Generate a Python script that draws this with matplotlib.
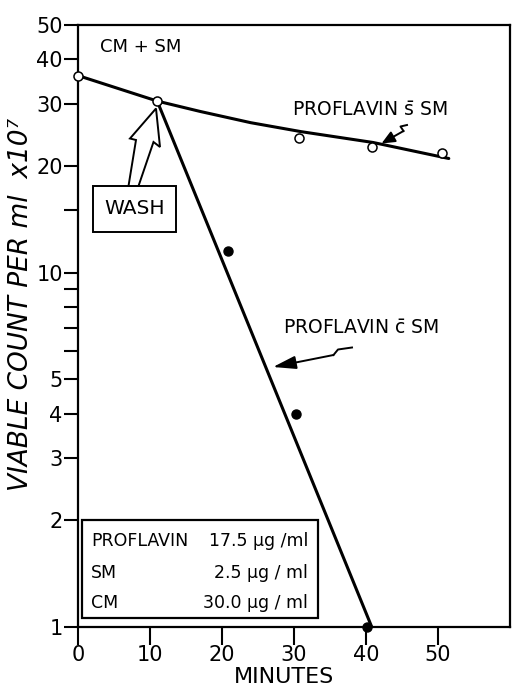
import matplotlib
matplotlib.use('Agg')
import matplotlib.pyplot as plt
from matplotlib.patches import Polygon, Rectangle, FancyArrowPatch
from matplotlib.ticker import FixedLocator, NullFormatter

# ── Data ──────────────────────────────────────────────────────────────────────
open_min   = [0, 11, 30.7, 40.9, 50.6]          # PROFLAVIN without SM
open_count = [36, 30.5, 24.0, 22.7, 21.8]
fill_min   = [20.9, 30.3, 40.2]                 # PROFLAVIN with SM
fill_count = [11.5, 4.0, 1.0]

curve_min   = [0, 11, 17, 24, 31, 41, 51.5]     # drawn curve through open points
curve_count = [36, 30.5, 28.5, 26.5, 25.0, 23.3, 21.0]
line_min    = [11, 40.8]                        # straight line after wash
line_count  = [30.5, 1.0]

y_major = [1, 2, 3, 4, 5, 10, 20, 30, 40, 50]
y_minor = [6, 7, 8, 9, 15]
x_major = [0, 10, 20, 30, 40, 50]

W, H = 513, 688
fig = plt.figure(figsize=(W / 100, H / 100), dpi=100)
ax = fig.add_axes([78 / W, 61 / H, 432 / W, 602 / H])

def P(x, y):
    # reference pixel (top-left origin) -> figure fraction
    return (x / W, 1 - y / H)

LW = 2.2
ax.plot(curve_min, curve_count, color='black', lw=LW, solid_capstyle='round')
ax.plot(line_min, line_count, color='black', lw=LW, solid_capstyle='round')
ax.plot(open_min, open_count, 'o', ms=6.5, mfc='white', mec='black', mew=1.1,
        clip_on=False, zorder=5)
ax.plot(fill_min, fill_count, 'o', ms=6.5, mfc='black', mec='black',
        clip_on=False, zorder=5)

ax.set_yscale('log')
ax.set_xlim(0, 60)
ax.set_ylim(1, 50)
ax.yaxis.set_major_locator(FixedLocator(y_major))
ax.yaxis.set_minor_locator(FixedLocator(y_minor))
ax.set_yticklabels([str(v) for v in y_major])
ax.yaxis.set_minor_formatter(NullFormatter())
ax.set_xticks(x_major)
ax.set_xticklabels([str(v) for v in x_major])

for s in ax.spines.values():
    s.set_linewidth(1.6)
ax.tick_params(axis='y', which='both', direction='out', length=10, width=1.5,
               labelsize=15, pad=1)
ax.tick_params(axis='x', which='both', direction='out', length=13, width=1.5,
               labelsize=15, pad=0)

fig.text(*P(284, 677), 'MINUTES', fontsize=16, ha='center', va='center')
ax.set_ylabel('VIABLE COUNT PER ml  x10\u2077', fontsize=19, style='italic')
ax.yaxis.set_label_coords(-0.102, 0.535)

# ── Annotations ───────────────────────────────────────────────────────────────
fig.text(*P(100, 47), 'CM + SM', fontsize=13, va='center', ha='left')
fig.text(*P(292, 110), 'PROFLAVIN $\\bar{\\mathrm{s}}$ SM', fontsize=13.5,
         va='center', ha='left')
fig.text(*P(283, 328), 'PROFLAVIN $\\bar{\\mathrm{c}}$ SM', fontsize=13.5,
         va='center', ha='left')

# squiggle arrows
def squiggle(pts, tip, head_len, head_w):
    xs = [p[0] / W for p in pts]
    ys = [1 - p[1] / H for p in pts]
    fig.add_artist(plt.Line2D(xs, ys, transform=fig.transFigure, color='black', lw=1.4))
    fig.add_artist(FancyArrowPatch(
        P(*pts[-1]), P(*tip), transform=fig.transFigure,
        arrowstyle=f'-|>,head_length={head_len},head_width={head_w}',
        mutation_scale=10, color='black', lw=1.4, shrinkA=0, shrinkB=0))

squiggle([(407, 125), (400.5, 126.5), (403.5, 131)], (381.5, 143.5), 0.8, 0.35)
squiggle([(352, 347.5), (338, 349.5), (333.5, 355)], (273, 367), 1.4, 0.4)

# WASH box and hollow arrow
fig.add_artist(Rectangle(P(93, 232), 83 / W, 46 / H, transform=fig.transFigure,
                         fill=False, ec='black', lw=1.4))
fig.text(*P(134.5, 209), 'WASH', fontsize=14.5, ha='center', va='center')
arrow_px = [(128.5, 186), (136, 140), (130, 138.5), (156, 108.5),
            (160, 147), (153.5, 142), (138.5, 186)]
fig.add_artist(Polygon([P(*p) for p in arrow_px], closed=True,
                       transform=fig.transFigure, fc='white', ec='black',
                       lw=1.4, zorder=6))

# concentration box
fig.add_artist(Rectangle(P(82, 618), 236 / W, 98 / H, transform=fig.transFigure,
                         fill=False, ec='black', lw=1.6))
rows = [('PROFLAVIN', '17.5 \u00b5g /ml', 541),
        ('SM', '2.5 \u00b5g / ml', 573),
        ('CM', '30.0 \u00b5g / ml', 603)]
for name, val, yy in rows:
    fig.text(*P(91, yy), name, fontsize=12.5, ha='left', va='center')
    fig.text(*P(308, yy), val, fontsize=12.5, ha='right', va='center')

fig.savefig('out.png', dpi=100)
